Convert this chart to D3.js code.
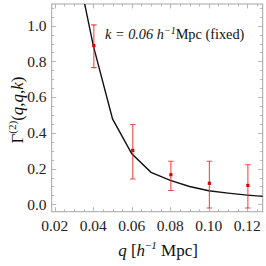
<!DOCTYPE html>
<html><head><meta charset="utf-8">
<script src="https://cdn.jsdelivr.net/npm/d3@7"></script>
<style>body{margin:0;background:#fff}svg{display:block}</style>
</head><body>
<svg id="c" width="266" height="266"></svg>
<script>
// data
const curveQ = [0.03, 0.04, 0.05, 0.06, 0.07, 0.08, 0.09, 0.10, 0.11, 0.12, 0.13];
const curveG = [1.41, 0.888, 0.478, 0.283, 0.179, 0.134, 0.100, 0.076, 0.063, 0.052, 0.043];
const pointQ = [0.0403, 0.0605, 0.0803, 0.1003, 0.1203];
const pointG = [0.888, 0.302, 0.166, 0.118, 0.106];
const errLo = [0.765, 0.142, 0.078, -0.02, -0.02];
const errHi = [1.004, 0.447, 0.241, 0.241, 0.222];
const xTicks = [0.02, 0.04, 0.06, 0.08, 0.10, 0.12];
const yTicks = [0.0, 0.2, 0.4, 0.6, 0.8, 1.0];

const FONT = '"Liberation Serif"';
const svg = d3.select("#c");
const L = 51.7, R = 262.7, T = 4, B = 211.7;
const x = d3.scaleLinear().domain([0.0184, 0.128]).range([L, R]);
const y = d3.scaleLinear().domain([-0.041, 1.121]).range([B, T]);
const frameCol = "#a6a6a6";

svg.append("defs").append("clipPath").attr("id","clip")
  .append("rect").attr("x",L).attr("y",T).attr("width",R-L).attr("height",B-T);

// ticks (major and minor) on all four sides
const xMinor = d3.range(0.02, 0.1281, 0.005).filter(v => v >= 0.0184 && v <= 0.128);
const yMinor = d3.range(0.0, 1.1201, 0.05);
const g = svg.append("g");
function isMajor(v, arr){ return arr.some(a => Math.abs(a - v) < 1e-9); }
xMinor.forEach(v => {
  const len = isMajor(v, xTicks) ? 4.5 : 2.5;
  const px = Math.round(x(v)) + 0.5;
  g.append("line").attr("x1",px).attr("x2",px).attr("y1",B).attr("y2",B-len).attr("stroke",frameCol).attr("stroke-width",0.8);
  g.append("line").attr("x1",px).attr("x2",px).attr("y1",T).attr("y2",T+len).attr("stroke",frameCol).attr("stroke-width",0.8);
});
yMinor.forEach(v => {
  const len = isMajor(v, yTicks) ? 4.5 : 2.5;
  const py = Math.round(y(v)) + 0.5;
  g.append("line").attr("y1",py).attr("y2",py).attr("x1",L).attr("x2",L+len).attr("stroke",frameCol).attr("stroke-width",0.8);
  g.append("line").attr("y1",py).attr("y2",py).attr("x1",R).attr("x2",R-len).attr("stroke",frameCol).attr("stroke-width",0.8);
});
svg.append("rect").attr("x",L).attr("y",T).attr("width",R-L).attr("height",B-T)
  .attr("fill","none").attr("stroke",frameCol).attr("stroke-width",1);

// tick labels
svg.append("g").selectAll("text").data(xTicks).join("text")
  .attr("x", d => x(d)).attr("y", 230.5).attr("text-anchor","middle")
  .style("font-family", FONT).style("font-size","15.5px").attr("fill","#222")
  .text(d => d3.format(".2f")(d));
svg.append("g").selectAll("text").data(yTicks).join("text")
  .attr("x", 46.5).attr("y", d => y(d) + 5.2).attr("text-anchor","end")
  .style("font-family", FONT).style("font-size","15.5px").attr("fill","#222")
  .text(d => d3.format(".1f")(d));

// curve
svg.append("path").attr("clip-path","url(#clip)")
  .datum(curveQ.map((q,i)=>[q,curveG[i]]))
  .attr("d", d3.line().x(d=>x(d[0])).y(d=>y(d[1])))
  .attr("fill","none").attr("stroke","#111").attr("stroke-width",1.4);

// error bars
const eg = svg.append("g").attr("clip-path","url(#clip)");
pointQ.forEach((q,i) => {
  const px = x(q);
  eg.append("line").attr("x1",px).attr("x2",px).attr("y1",y(errLo[i])).attr("y2",y(errHi[i]))
    .attr("stroke","#f02020").attr("stroke-opacity",0.8).attr("stroke-width",1.1);
  [errLo[i], errHi[i]].forEach(v => {
    eg.append("line").attr("x1",px-2.8).attr("x2",px+2.8).attr("y1",y(v)).attr("y2",y(v))
      .attr("stroke","#f02020").attr("stroke-opacity",0.8).attr("stroke-width",1.1);
  });
  eg.append("rect").attr("x",px-1.6).attr("y",y(pointG[i])-1.6).attr("width",3.2).attr("height",3.2)
    .attr("fill","#e00000");
});

// annotation
const ann = svg.append("text").attr("x",105).attr("y",38.5)
  .style("font-family", FONT).style("font-size","14.3px").attr("fill","#111");
ann.append("tspan").style("font-style","italic").text("k = 0.06 h");
ann.append("tspan").style("font-style","italic").style("font-size","10px").attr("dy",-5).text("\u2212");
ann.append("tspan").style("font-style","italic").style("font-size","10px").text("1");
ann.append("tspan").attr("dy",5).text("Mpc (fixed)");

// x label
const xl = svg.append("text").attr("x",158).attr("y",256).attr("text-anchor","middle")
  .style("font-family", FONT).style("font-size","17px").attr("fill","#111");
xl.append("tspan").style("font-style","italic").text("q");
xl.append("tspan").text(" [");
xl.append("tspan").style("font-style","italic").text("h");
xl.append("tspan").style("font-size","11px").attr("dy",-7).text("\u2212");
xl.append("tspan").style("font-size","11px").style("font-style","italic").text("1");
xl.append("tspan").attr("dy",7).text(" Mpc]");

// y label
const yl = svg.append("text").attr("transform","translate(22.5,110) rotate(-90)").attr("text-anchor","middle")
  .style("font-family", FONT).style("font-size","17px").attr("fill","#111");
yl.append("tspan").text("\u0393");
yl.append("tspan").style("font-size","11px").attr("dy",-7).text("(2)");
yl.append("tspan").attr("dy",7).text("(");
yl.append("tspan").style("font-style","italic").text("q");
yl.append("tspan").text(",");
yl.append("tspan").style("font-style","italic").text("q");
yl.append("tspan").text(",");
yl.append("tspan").style("font-style","italic").text("k");
yl.append("tspan").text(")");
</script>
</body></html>
